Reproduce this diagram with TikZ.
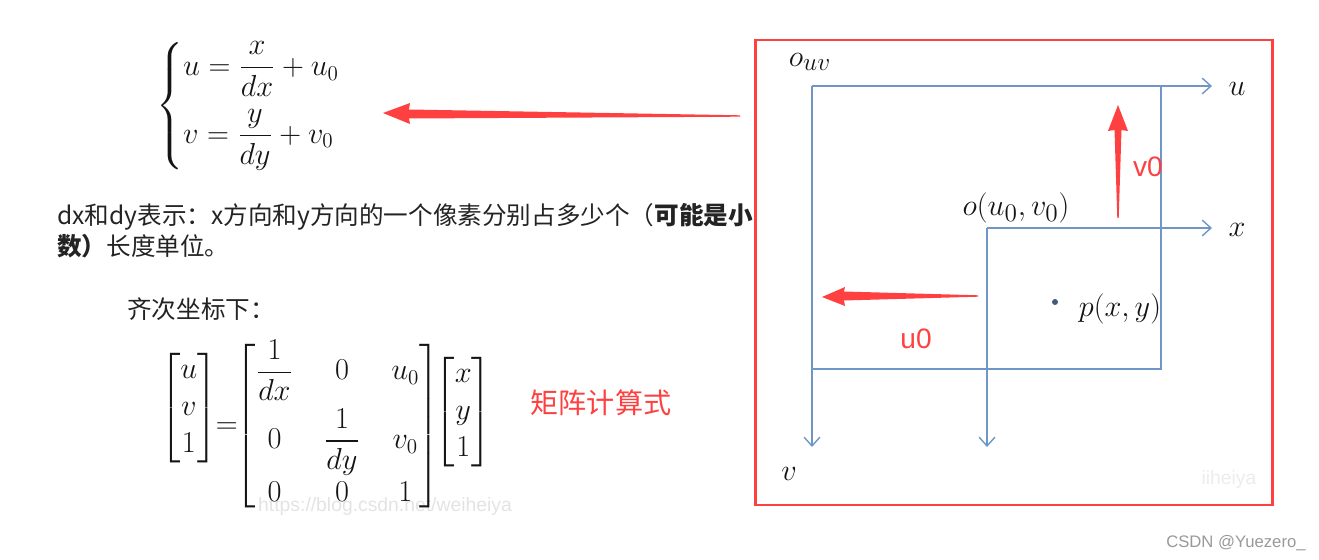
\documentclass[tikz,border=0pt]{standalone}
\usepackage{amsmath}
\usepackage{fontspec}
\newfontfamily\cjk{Noto Sans CJK SC}
\newfontfamily\lsans{Liberation Sans}
\usetikzlibrary{arrows.meta}
\definecolor{axblue}{RGB}{112,150,200}
\definecolor{redc}{RGB}{255,64,64}
\definecolor{txt}{RGB}{35,35,35}
\definecolor{mtxt}{RGB}{20,20,20}
\begin{document}
\begin{tikzpicture}[x=0.02cm,y=-0.02cm,
  axis/.style={draw=axblue, line width=0.8pt},
  axarrow/.style={axis, -{Straight Barb[length=5pt,width=9pt]}},
  mathlbl/.style={inner sep=0pt, text=mtxt, font=\fontsize{19}{22}\selectfont},
  eqlbl/.style={inner sep=0pt, text=mtxt, font=\fontsize{17.5}{21}\selectfont},
  cjktext/.style={inner sep=0pt, anchor=west, text=txt, font=\cjk\fontsize{14}{17}\selectfont},
  redlbl/.style={inner sep=0pt, text=redc, font=\lsans\fontsize{16}{19}\selectfont},
  wmark/.style={inner sep=0pt, text=gray!22, font=\lsans\fontsize{11}{13}\selectfont}]
\useasboundingbox (0,0) rectangle (1319,560);

% ---- left: equations and text
\node[eqlbl] (sys) at (264,106) {$\begin{cases} u = \dfrac{x}{dx} + u_0 \\[12pt] v = \dfrac{y}{dy} + v_0 \end{cases}$};

\node[cjktext] (line1) at (57,217) {dx和dy表示：x方向和y方向的一个像素分别占多少个（\textbf{可能是小}};
\node[cjktext] (line2) at (57,246) {\textbf{数）}长度单位。};
\node[cjktext] (homog) at (127,309) {齐次坐标下：};

\node[wmark] (wm1) at (385,507) {https://blog.csdn.net/weiheiya};
\node[eqlbl] (mat) at (326,426) {$\raisebox{10pt}{$\displaystyle\begin{bmatrix}u\\v\\1\end{bmatrix}$}\!\!=\!\!\setlength\arraycolsep{9pt}\begin{bmatrix}\dfrac{1}{dx} & 0 & u_0\\[10pt] 0 & \dfrac{1}{dy} & v_0 \\[8pt] 0 & 0 & 1\end{bmatrix}\!\!\setlength\arraycolsep{4pt}\raisebox{8pt}{$\displaystyle\begin{bmatrix}x\\y\\1\end{bmatrix}$}$};
\node[inner sep=0pt, text=redc, font=\cjk\fontsize{16}{19}\selectfont] (calc) at (601,403) {矩阵计算式};

% ---- big red arrow
\fill[redc] (740,115.3) -- (409,109.5) -- (410,103) -- (383,113) -- (410,124) -- (409,118.5) -- (740,116.7) -- cycle;

% ---- right: frame
\draw[redc, line width=1.7pt] (755,40) rectangle (1272,505);

\coordinate (Ouv) at (812,86);
\coordinate (uend) at (1212,86);
\coordinate (vend) at (812,447);
\coordinate (TR) at (1161,86);
\coordinate (BR) at (1161,369);
\coordinate (BL) at (812,369);
\coordinate (O) at (987,228);
\coordinate (xend) at (1212,228);
\coordinate (yend) at (987,447);

\draw[axis] (TR) -- (BR) -- (BL);
\draw[axarrow] (Ouv) -- (uend);
\draw[axarrow] (Ouv) -- (vend);
\draw[axarrow] (O) -- (xend);
\draw[axarrow] (O) -- (yend);

\node[mathlbl] (louv) at (810,62) {$o_{uv}$};
\node[mathlbl] (lu) at (1237,89) {$u$};
\node[mathlbl] (lx) at (1237,230) {$x$};
\node[mathlbl] (lv) at (789,474) {$v$};
\node[mathlbl] (lo) at (1016,208) {$o(u_0,v_0)$};
\fill[axblue!60!black] (1055,302) circle (3);
\node[mathlbl] (lp) at (1120,309) {$p(x,y)$};
\node[wmark, text=gray!15] (wm2) at (1229,480) {iiheiya};

% ---- red offset arrows
\fill[redc] (1117.3,218) -- (1114.5,130) -- (1108,131) -- (1118,105) -- (1128,131) -- (1121.5,130) -- (1118.7,218) -- cycle;
\node[redlbl] (lv0) at (1148,167) {v0};
\fill[redc] (978,295.3) -- (844,291.5) -- (845,287) -- (822,297) -- (845,306) -- (844,300.5) -- (978,296.7) -- cycle;
\node[redlbl] (lu0) at (916,339) {u0};

\node[inner sep=0pt, text=gray!80, font=\lsans\fontsize{9.5}{11}\selectfont, anchor=east] (csdn) at (1306,543) {CSDN @Yuezero\_};
\end{tikzpicture}
\end{document}
